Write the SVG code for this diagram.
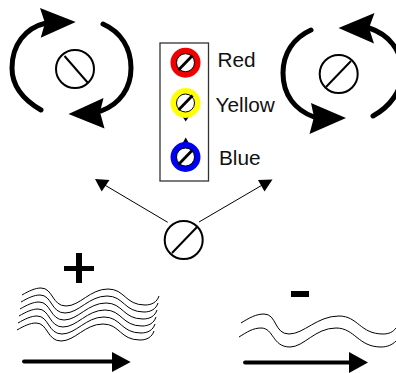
<svg xmlns="http://www.w3.org/2000/svg" width="396" height="373" viewBox="0 0 396 373">
<style>
.arc{fill:none;stroke:#000;stroke-width:5;stroke-linecap:round}
.head{fill:#000;stroke:none}
.disc{fill:#fff;stroke:#000;stroke-width:2}
.slash{stroke:#000;stroke-width:2;fill:none}
.thin{stroke:#000;stroke-width:1;fill:none}
.wave{stroke:#000;stroke-width:1;fill:none}
.bar{stroke:#000;stroke-width:3.8;stroke-linecap:round;fill:none}
.ring{fill:#fff;stroke-width:6}
.inner{fill:none;stroke:#000;stroke-width:1}
.knob{stroke:#000;stroke-width:2.8;fill:none}
text{font-family:"Liberation Sans",Arial,sans-serif;font-size:20.800px;fill:#111}
</style>
<defs>
<path id="w" d="M22,295 C29,291 35,288 41,288 C53,288 52,306 66,306 C80,306 90,289 108,289 C125,289 125,305 145,305 C152,305 157,302 159,296"/>
</defs>
<g id="rotor-left">
<path class="arc" d="M41,110 C22,99 12,85 12,68 C12,45 25,28 46,23"/>
<polygon class="head" points="40,8 75.700,22 40.700,37.700 45,23"/>
<path class="arc" d="M103,24 C121,32 131,48 131,68 C131,88 120,104 101,111"/>
<polygon class="head" points="103.500,98 68.500,114 104.500,128.500 100,112"/>
<circle class="disc" cx="75" cy="69" r="19"/>
<line class="slash" x1="64.500" y1="56" x2="88" y2="83"/>
</g>
<g id="rotor-right">
<path class="arc" d="M311,30 C293,38 283,54 283,73 C283,95 295,110 314,117"/>
<polygon class="head" points="311,103 346,118 309.500,134 314,117"/>
<path class="arc" d="M373,116 C391,106 402,90 402,72 C402,50 388,34 369,28"/>
<polygon class="head" points="374.500,13 338.500,28 374,43.500 369,28"/>
<circle class="disc" cx="338.700" cy="74" r="19"/>
<line class="slash" x1="326" y1="87" x2="351" y2="61"/>
</g>
<g id="legend">
<rect x="160" y="43" width="48.500" height="138" fill="#fff" stroke="#333" stroke-width="1.3"/>
</g>
<g id="knob-red">
<circle class="ring" cx="185.500" cy="62.700" r="12" stroke="#f00000"/>
<circle class="inner" cx="185.500" cy="62.700" r="9"/>
<line class="knob" x1="178.500" y1="70" x2="192.500" y2="55.500"/>
<text x="217.500" y="66.700">Red</text>
</g>
<g id="knob-yellow">
<polygon class="head" points="181.500,115 190,115 185.700,121.500"/>
<circle class="ring" cx="185.500" cy="103" r="12" stroke="#ffff00"/>
<circle class="inner" cx="185.500" cy="103" r="9"/>
<line class="knob" x1="178.500" y1="110" x2="192.500" y2="95.500"/>
<text x="215.500" y="111.700">Yellow</text>
</g>
<g id="knob-blue">
<polygon class="head" points="181.500,145 190,145 185.700,137.500"/>
<circle class="ring" cx="185.500" cy="157" r="12" stroke="#0000f0"/>
<circle class="inner" cx="185.500" cy="157" r="9"/>
<line class="knob" x1="178.500" y1="164.500" x2="192.500" y2="150"/>
<text x="219" y="164.500">Blue</text>
</g>
<g id="rotor-center">
<circle class="disc" cx="183.700" cy="240" r="19"/>
<line class="slash" x1="172" y1="253" x2="197" y2="227"/>
</g>
<g id="connectors">
<line class="thin" x1="167.700" y1="222.300" x2="103" y2="184"/>
<polygon class="head" points="95,179 109.500,180 101.700,191.500"/>
<line class="thin" x1="199" y1="222" x2="264" y2="184"/>
<polygon class="head" points="272.500,179.500 258,180 264.500,191.500"/>
</g>
<g id="plus-panel">
<rect x="76" y="253" width="6" height="30"/>
<rect x="64" y="266" width="30" height="5"/>
<g class="wave">
<use href="#w"/>
<use href="#w" x="-1" y="7"/>
<use href="#w" x="-2" y="14"/>
<use href="#w" x="-3" y="21"/>
<use href="#w" x="-4" y="28"/>
<use href="#w" x="-5" y="35"/>
</g>
<line class="bar" x1="24" y1="361.500" x2="114" y2="361.500"/>
<polygon class="head" points="112,352 130.700,362 112,372"/>
</g>
<g id="minus-panel">
<rect x="291" y="291" width="18" height="6"/>
<path class="wave" d="M241,323 C249,318 256,314 264,314 C277,314 274,334 289,334 C304,334 317,316 339,316 C358,316 360,334 383,334 C389,334 393,332 396,328"/>
<path class="wave" d="M239,337 C247,332 253,328 261,328 C274,328 272,347 290,347 C304,347 315,328 336,328 C355,328 358,347 381,347 C387,347 392,345 396,341"/>
<line class="bar" x1="245" y1="362.500" x2="352" y2="362.500"/>
<polygon class="head" points="349,352 368,362.500 349,373"/>
</g>
</svg>
